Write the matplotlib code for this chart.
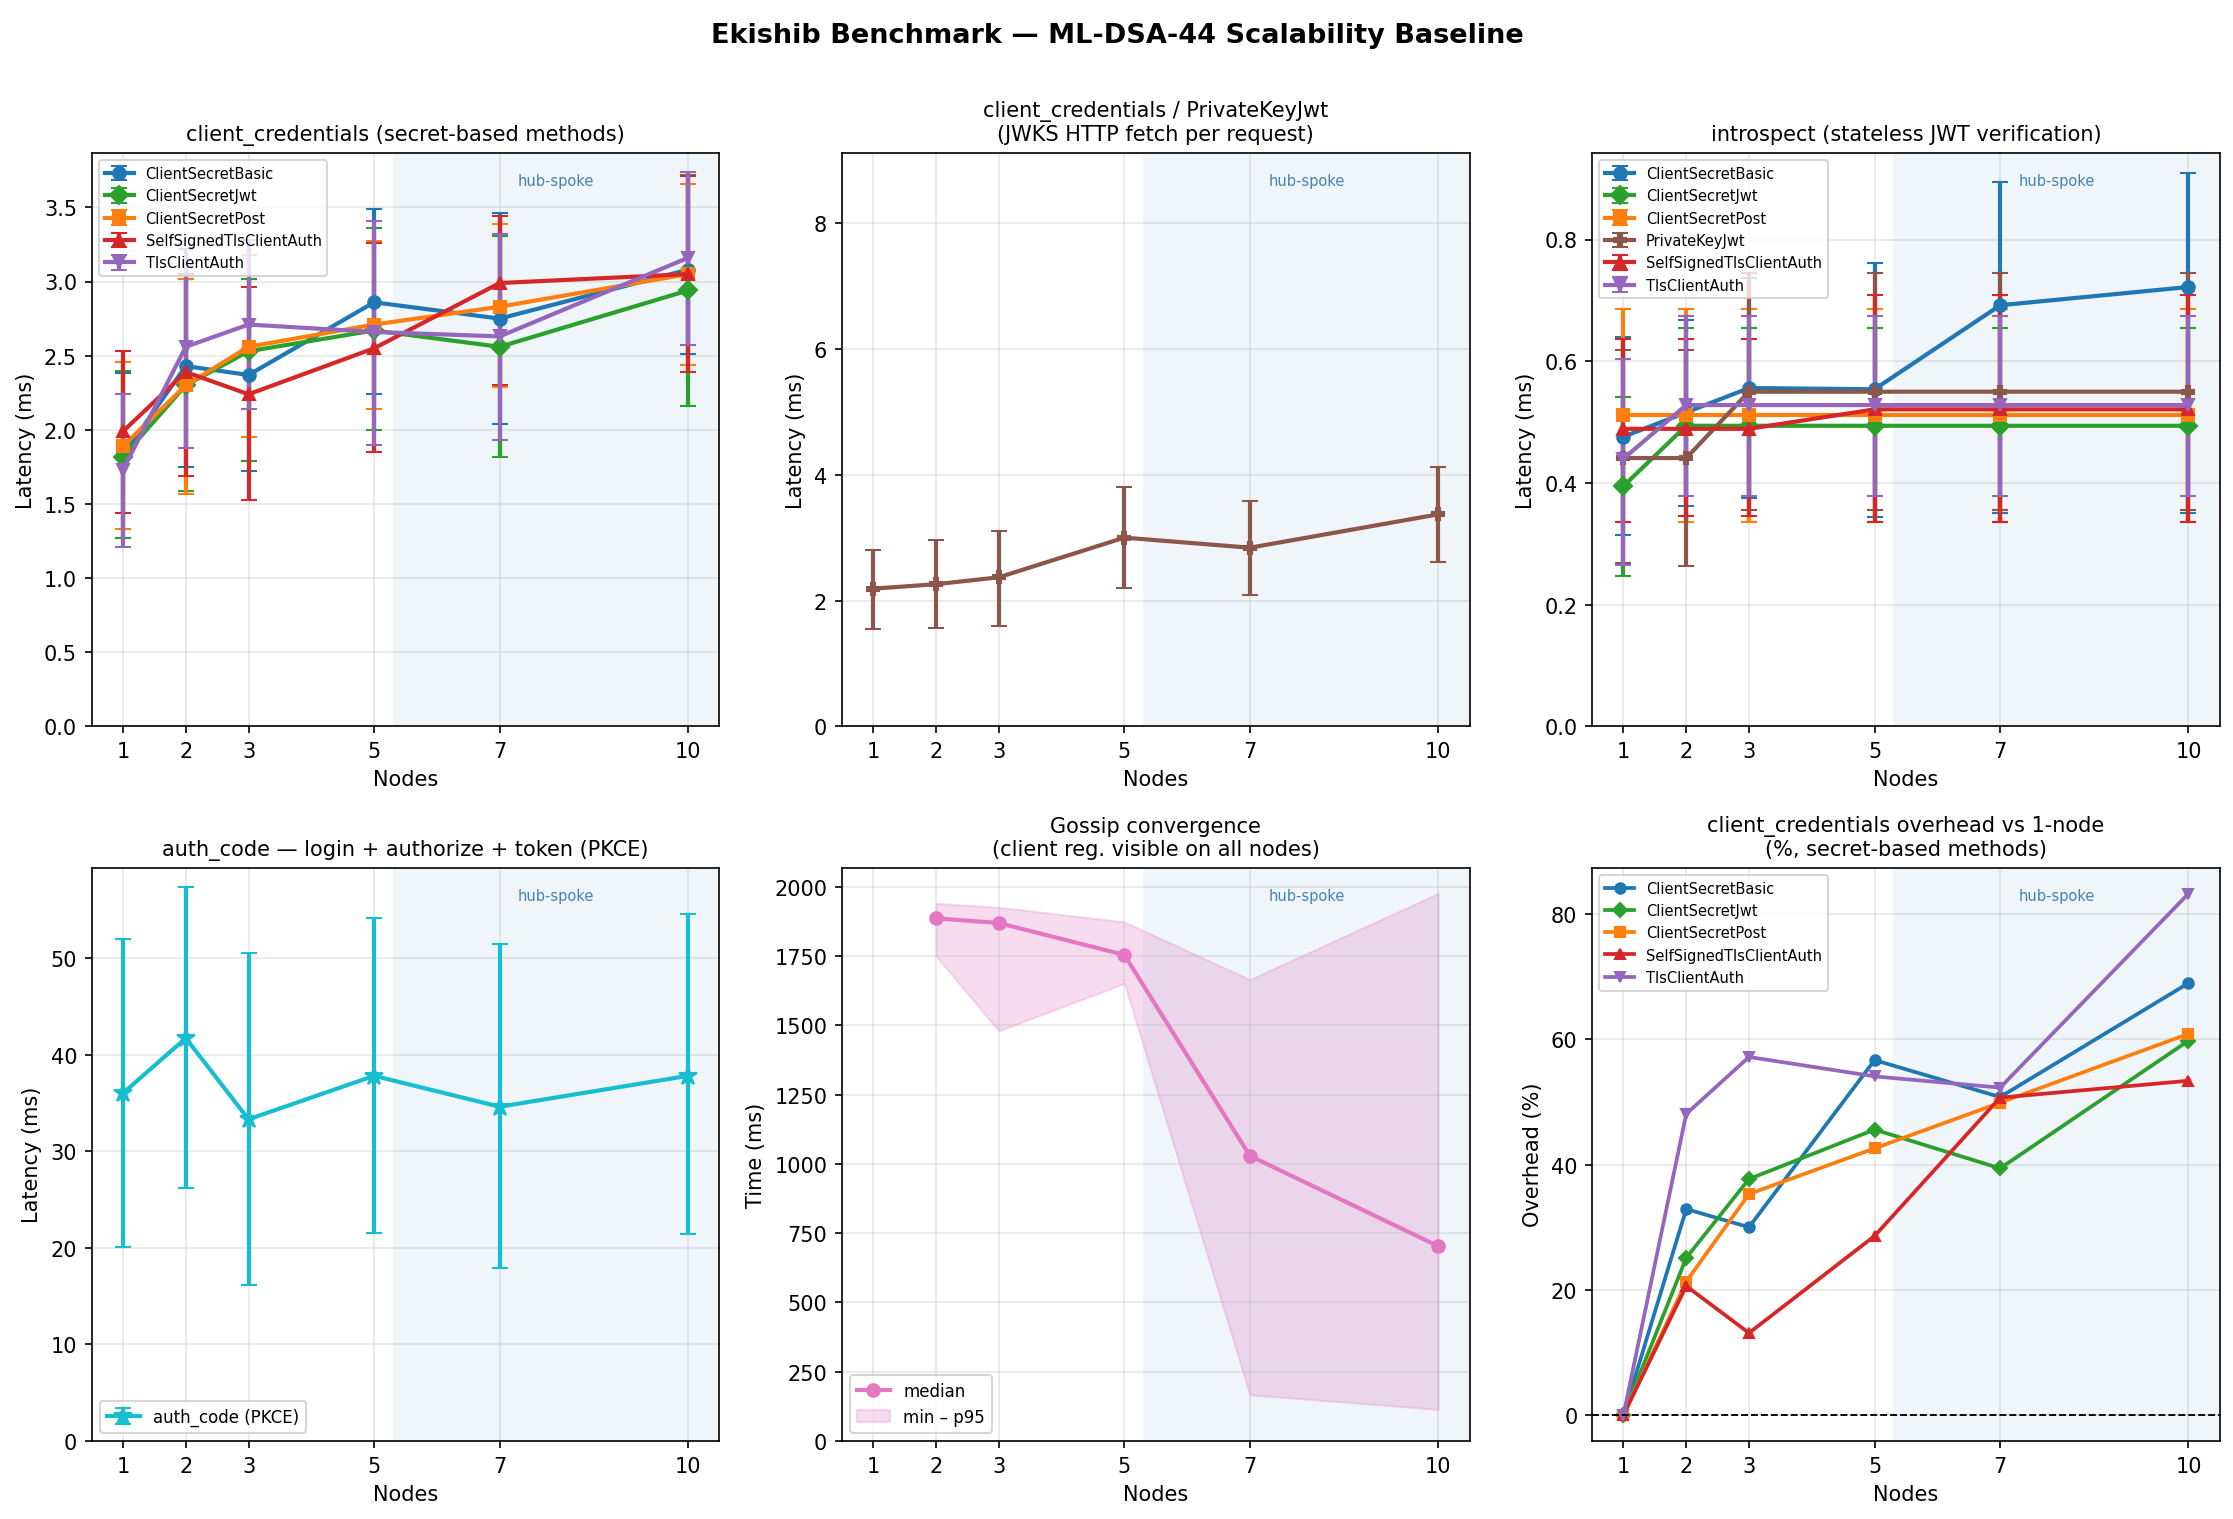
import numpy as np
import matplotlib
matplotlib.use("Agg")
from matplotlib import pyplot as plt

nodes = [1, 2, 3, 5, 7, 10]

# client_credentials, secret-based methods: median / lower / upper (ms)
cc_methods = ["ClientSecretBasic", "ClientSecretJwt", "ClientSecretPost",
              "SelfSignedTlsClientAuth", "TlsClientAuth"]
cc_med = {
    "ClientSecretBasic":       [1.83, 2.43, 2.37, 2.86, 2.75, 3.08],
    "ClientSecretJwt":         [1.82, 2.30, 2.53, 2.67, 2.56, 2.94],
    "ClientSecretPost":        [1.89, 2.30, 2.56, 2.71, 2.83, 3.05],
    "SelfSignedTlsClientAuth": [1.99, 2.39, 2.24, 2.55, 2.99, 3.05],
    "TlsClientAuth":           [1.73, 2.56, 2.71, 2.66, 2.63, 3.16],
}
cc_lo = {
    "ClientSecretBasic":       [1.27, 1.75, 1.72, 2.24, 2.04, 2.51],
    "ClientSecretJwt":         [1.27, 1.59, 1.79, 2.00, 1.82, 2.16],
    "ClientSecretPost":        [1.33, 1.57, 1.95, 2.14, 2.29, 2.44],
    "SelfSignedTlsClientAuth": [1.44, 1.69, 1.53, 1.85, 2.30, 2.39],
    "TlsClientAuth":           [1.21, 1.88, 2.14, 1.90, 1.93, 2.57],
}
cc_hi = {
    "ClientSecretBasic":       [2.38, 3.02, 3.02, 3.49, 3.46, 3.72],
    "ClientSecretJwt":         [2.40, 3.02, 3.02, 3.36, 3.31, 3.72],
    "ClientSecretPost":        [2.46, 3.02, 3.18, 3.27, 3.39, 3.66],
    "SelfSignedTlsClientAuth": [2.53, 3.05, 2.96, 3.26, 3.44, 3.71],
    "TlsClientAuth":           [2.24, 3.22, 3.28, 3.41, 3.32, 3.74],
}

# client_credentials / PrivateKeyJwt
pkj_med = [2.19, 2.26, 2.37, 3.00, 2.84, 3.37]
pkj_lo = [1.55, 1.57, 1.60, 2.20, 2.09, 2.62]
pkj_hi = [2.80, 2.96, 3.11, 3.80, 3.58, 4.12]

# introspect
in_methods = ["ClientSecretBasic", "ClientSecretJwt", "ClientSecretPost",
              "PrivateKeyJwt", "SelfSignedTlsClientAuth", "TlsClientAuth"]
in_med = {
    "ClientSecretBasic":       [0.476, 0.516, 0.556, 0.554, 0.692, 0.722],
    "ClientSecretJwt":         [0.395, 0.494, 0.494, 0.494, 0.494, 0.494],
    "ClientSecretPost":        [0.511, 0.511, 0.511, 0.511, 0.511, 0.511],
    "PrivateKeyJwt":           [0.441, 0.441, 0.550, 0.550, 0.550, 0.550],
    "SelfSignedTlsClientAuth": [0.489, 0.489, 0.489, 0.521, 0.521, 0.521],
    "TlsClientAuth":           [0.440, 0.528, 0.528, 0.528, 0.528, 0.528],
}
in_lo = {
    "ClientSecretBasic":       [0.314, 0.363, 0.376, 0.344, 0.350, 0.350],
    "ClientSecretJwt":         [0.247, 0.336, 0.336, 0.336, 0.336, 0.336],
    "ClientSecretPost":        [0.336, 0.336, 0.336, 0.336, 0.336, 0.336],
    "PrivateKeyJwt":           [0.268, 0.264, 0.355, 0.355, 0.355, 0.355],
    "SelfSignedTlsClientAuth": [0.336, 0.345, 0.345, 0.336, 0.336, 0.336],
    "TlsClientAuth":           [0.266, 0.378, 0.378, 0.378, 0.378, 0.378],
}
in_hi = {
    "ClientSecretBasic":       [0.640, 0.667, 0.736, 0.762, 0.894, 0.909],
    "ClientSecretJwt":         [0.542, 0.655, 0.655, 0.655, 0.655, 0.655],
    "ClientSecretPost":        [0.686, 0.686, 0.686, 0.686, 0.686, 0.686],
    "PrivateKeyJwt":           [0.618, 0.618, 0.745, 0.745, 0.745, 0.745],
    "SelfSignedTlsClientAuth": [0.637, 0.637, 0.637, 0.709, 0.709, 0.709],
    "TlsClientAuth":           [0.604, 0.675, 0.675, 0.675, 0.675, 0.675],
}

# auth_code (PKCE)
ac_med = [36.0, 41.7, 33.3, 37.8, 34.6, 37.8]
ac_lo = [20.1, 26.2, 16.2, 21.5, 17.9, 21.4]
ac_hi = [52.0, 57.3, 50.5, 54.1, 51.4, 54.5]

# gossip convergence (ms), no value at 1 node
gossip_nodes = [2, 3, 5, 7, 10]
gossip_med = [1886, 1869, 1754, 1029, 703]
gossip_min = [1750, 1480, 1651, 167, 114]
gossip_p95 = [1940, 1926, 1873, 1665, 1976]

# overhead vs 1-node (%)
ov = {
    "ClientSecretBasic":       [0, 32.9, 30.0, 56.7, 50.8, 69.0],
    "ClientSecretJwt":         [0, 25.1, 37.7, 45.6, 39.4, 59.8],
    "ClientSecretPost":        [0, 21.3, 35.3, 42.6, 49.9, 60.9],
    "SelfSignedTlsClientAuth": [0, 20.6, 13.1, 28.6, 50.7, 53.4],
    "TlsClientAuth":           [0, 48.1, 57.2, 54.1, 52.3, 83.3],
}

style = {
    "ClientSecretBasic":       ("tab:blue", "o"),
    "ClientSecretJwt":         ("tab:green", "D"),
    "ClientSecretPost":        ("tab:orange", "s"),
    "PrivateKeyJwt":           ("tab:brown", "P"),
    "SelfSignedTlsClientAuth": ("tab:red", "^"),
    "TlsClientAuth":           ("tab:purple", "v"),
}


def prepare_ax(ax, title, ylabel):
    ax.set_title(title, fontsize=10)
    ax.set_xlabel("Nodes", fontsize=10)
    ax.set_ylabel(ylabel, fontsize=10)
    ax.set_xticks(nodes)
    ax.set_xlim(0.5, 10.5)
    ax.grid(True, alpha=0.3)
    ax.axvspan(5.3, 10.5, color="#dde9f0", alpha=0.45, zorder=0, lw=0)
    ax.text(7.9, 0.965, "hub-spoke", transform=ax.get_xaxis_transform(),
            ha="center", va="top", fontsize=7, color="steelblue")


def errplot(ax, med, lo, hi, color, marker, label, ms=6):
    med = np.array(med)
    yerr = [med - np.array(lo), np.array(hi) - med]
    ax.errorbar(nodes, med, yerr=yerr, color=color, marker=marker,
                markersize=ms, lw=2, capsize=4, label=label)


fig, axes = plt.subplots(2, 3, figsize=(14.893, 10.133), dpi=150)
fig.subplots_adjust(left=0.041, right=0.9937, top=0.8987, bottom=0.0513,
                    wspace=0.195, hspace=0.246)

# client_credentials secret-based
ax = axes[0, 0]
for m in cc_methods:
    c, mk = style[m]
    errplot(ax, cc_med[m], cc_lo[m], cc_hi[m], c, mk, m)
ax.set_ylim(bottom=0)
prepare_ax(ax, "client_credentials (secret-based methods)", "Latency (ms)")
ax.legend(loc="upper left", fontsize=7)

# PrivateKeyJwt
ax = axes[0, 1]
c, mk = style["PrivateKeyJwt"]
errplot(ax, pkj_med, pkj_lo, pkj_hi, c, mk, "PrivateKeyJwt")
ax.set_ylim(0, 9.11)
prepare_ax(ax, "client_credentials / PrivateKeyJwt\n(JWKS HTTP fetch per request)",
           "Latency (ms)")

# introspect
ax = axes[0, 2]
for m in in_methods:
    c, mk = style[m]
    errplot(ax, in_med[m], in_lo[m], in_hi[m], c, mk, m)
ax.set_ylim(bottom=0)
prepare_ax(ax, "introspect (stateless JWT verification)", "Latency (ms)")
ax.legend(loc="upper left", fontsize=7)

# auth_code
ax = axes[1, 0]
errplot(ax, ac_med, ac_lo, ac_hi, "tab:cyan", "*", "auth_code (PKCE)", ms=9)
ax.set_ylim(bottom=0)
prepare_ax(ax, "auth_code \u2014 login + authorize + token (PKCE)", "Latency (ms)")
ax.legend(loc="lower left", fontsize=8)

# gossip
ax = axes[1, 1]
ax.plot(gossip_nodes, gossip_med, color="tab:pink", marker="o",
        markersize=6, lw=2, label="median")
ax.fill_between(gossip_nodes, gossip_min, gossip_p95, color="tab:pink",
                alpha=0.25, label="min \u2013 p95")
ax.set_ylim(bottom=0)
prepare_ax(ax, "Gossip convergence\n(client reg. visible on all nodes)", "Time (ms)")
ax.legend(loc="lower left", fontsize=8)

# overhead
ax = axes[1, 2]
for m in cc_methods:
    c, mk = style[m]
    ax.plot(nodes, ov[m], color=c, marker=mk, markersize=5, lw=1.8, label=m)
ax.axhline(0, color="black", lw=0.9, ls="--")
prepare_ax(ax, "client_credentials overhead vs 1-node\n(%, secret-based methods)",
           "Overhead (%)")
ax.legend(loc="upper left", fontsize=7)

fig.suptitle("Ekishib Benchmark \u2014 ML-DSA-44 Scalability Baseline",
             fontsize=13, fontweight="bold", y=0.985)

fig.savefig("out.png", dpi=150)
